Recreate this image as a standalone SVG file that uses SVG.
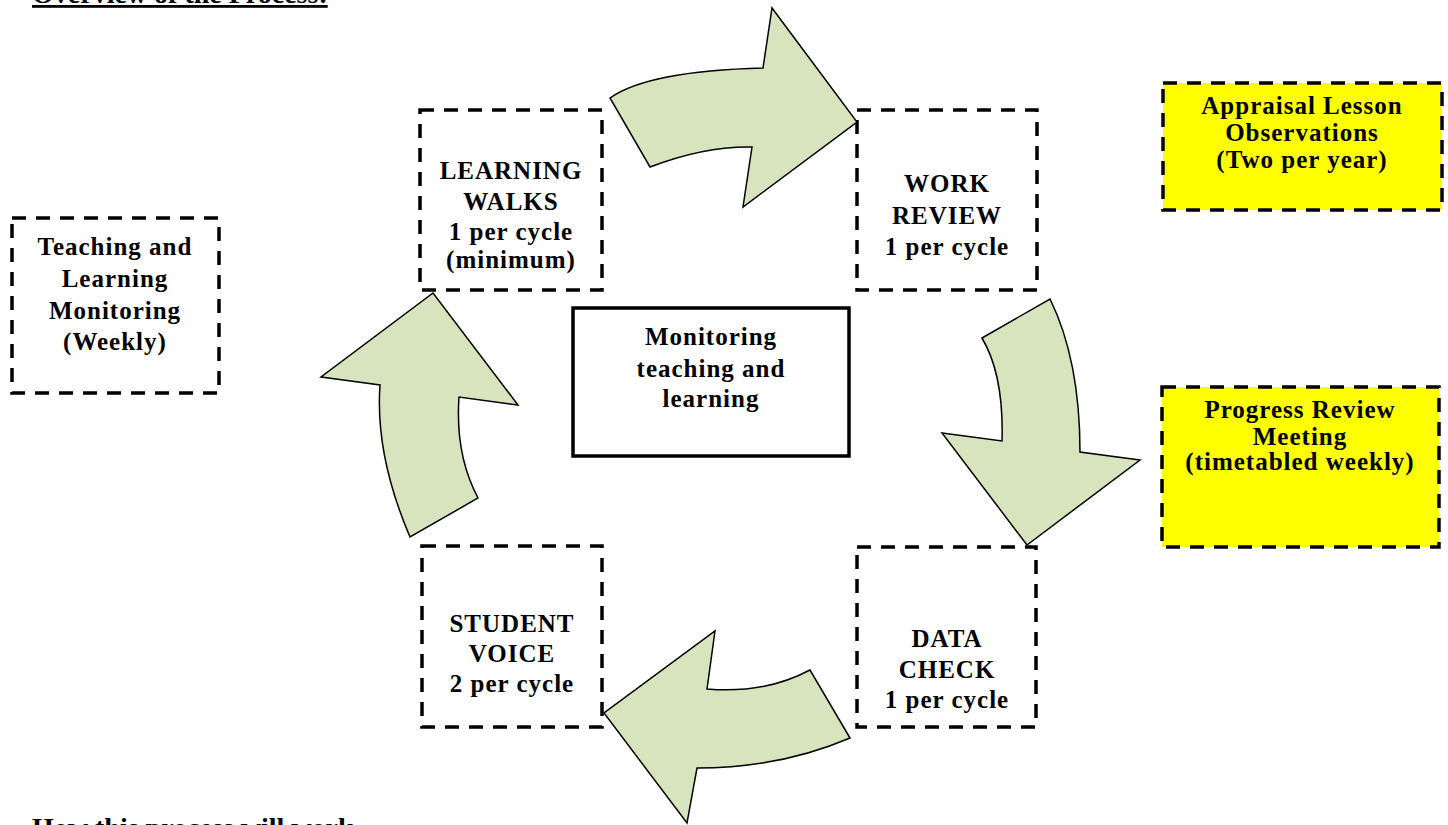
<svg xmlns="http://www.w3.org/2000/svg" width="1448" height="825" viewBox="0 0 1448 825">
<style>
.dash{fill:#fff;stroke:#000;stroke-width:3.5;stroke-dasharray:14 10}
.yel{fill:#ffff00;stroke:#000;stroke-width:3.5;stroke-dasharray:14 10}
.solid{fill:#fff;stroke:#000;stroke-width:3.5}
.arrow{fill:#d7e4bd;stroke:#000;stroke-width:1.5;stroke-linejoin:miter}
text{font-family:"Liberation Serif","Times New Roman",serif;font-weight:bold;font-size:25px;letter-spacing:1px;text-anchor:middle;fill:#000}
text.head{font-size:28px;letter-spacing:0px;text-anchor:start}
</style>
<rect width="1448" height="825" fill="#fff"/>
<text class="head" x="32" y="3" text-decoration="underline">Overview of the Process:</text>
<text class="head" x="32" y="837">How this process will work</text>
<g id="nodes">
<g id="tl-monitoring">
<rect class="dash" x="12" y="218" width="207" height="175"/>
<text x="115" y="255">Teaching and</text>
<text x="115" y="287">Learning</text>
<text x="115" y="319">Monitoring</text>
<text x="115" y="350">(Weekly)</text>
</g>
<g id="learning-walks">
<rect class="dash" x="420" y="110" width="182" height="180"/>
<text x="511" y="179">LEARNING</text>
<text x="511" y="210">WALKS</text>
<text x="511" y="240">1 per cycle</text>
<text x="511" y="268">(minimum)</text>
</g>
<g id="work-review">
<rect class="dash" x="857" y="110" width="180" height="180"/>
<text x="947" y="192">WORK</text>
<text x="947" y="224">REVIEW</text>
<text x="947" y="255">1 per cycle</text>
</g>
<g id="data-check">
<rect class="dash" x="857" y="547" width="179" height="180"/>
<text x="947" y="647">DATA</text>
<text x="947" y="678">CHECK</text>
<text x="947" y="708">1 per cycle</text>
</g>
<g id="student-voice">
<rect class="dash" x="422" y="546" width="180" height="181"/>
<text x="512" y="632">STUDENT</text>
<text x="512" y="662">VOICE</text>
<text x="512" y="692">2 per cycle</text>
</g>
<g id="center">
<rect class="solid" x="573" y="308" width="276" height="148"/>
<text x="711" y="345">Monitoring</text>
<text x="711" y="377">teaching and</text>
<text x="711" y="407">learning</text>
</g>
<g id="appraisal">
<rect class="yel" x="1163" y="83" width="279" height="127"/>
<text x="1302" y="114">Appraisal Lesson</text>
<text x="1302" y="141">Observations</text>
<text x="1302" y="168">(Two per year)</text>
</g>
<g id="progress">
<rect class="yel" x="1162" y="387" width="277" height="160"/>
<text x="1300" y="418">Progress Review</text>
<text x="1300" y="445">Meeting</text>
<text x="1300" y="470">(timetabled weekly)</text>
</g>
</g>
<g id="connectors">
<path class="arrow" d="M610,98 Q648,71 763,68 L772,8 L857,122 L743,207 L752,147 Q705,146 650,167 Z"/>
<path class="arrow" d="M982,338 L1050,299 Q1080,360 1080,452 L1140,460 L1027,545 L942,433 L1002,441 Q1004,375 982,338 Z"/>
<path class="arrow" d="M850,738 Q780,768 697,768 L687,823 L604,713 L715,631 L707,689 Q765,694 810,670 Z"/>
<path class="arrow" d="M410,537 Q375,455 380,385 L321,377 L433,293 L518,405 L459,397 Q455,455 478,498 Z"/>
</g>
</svg>
